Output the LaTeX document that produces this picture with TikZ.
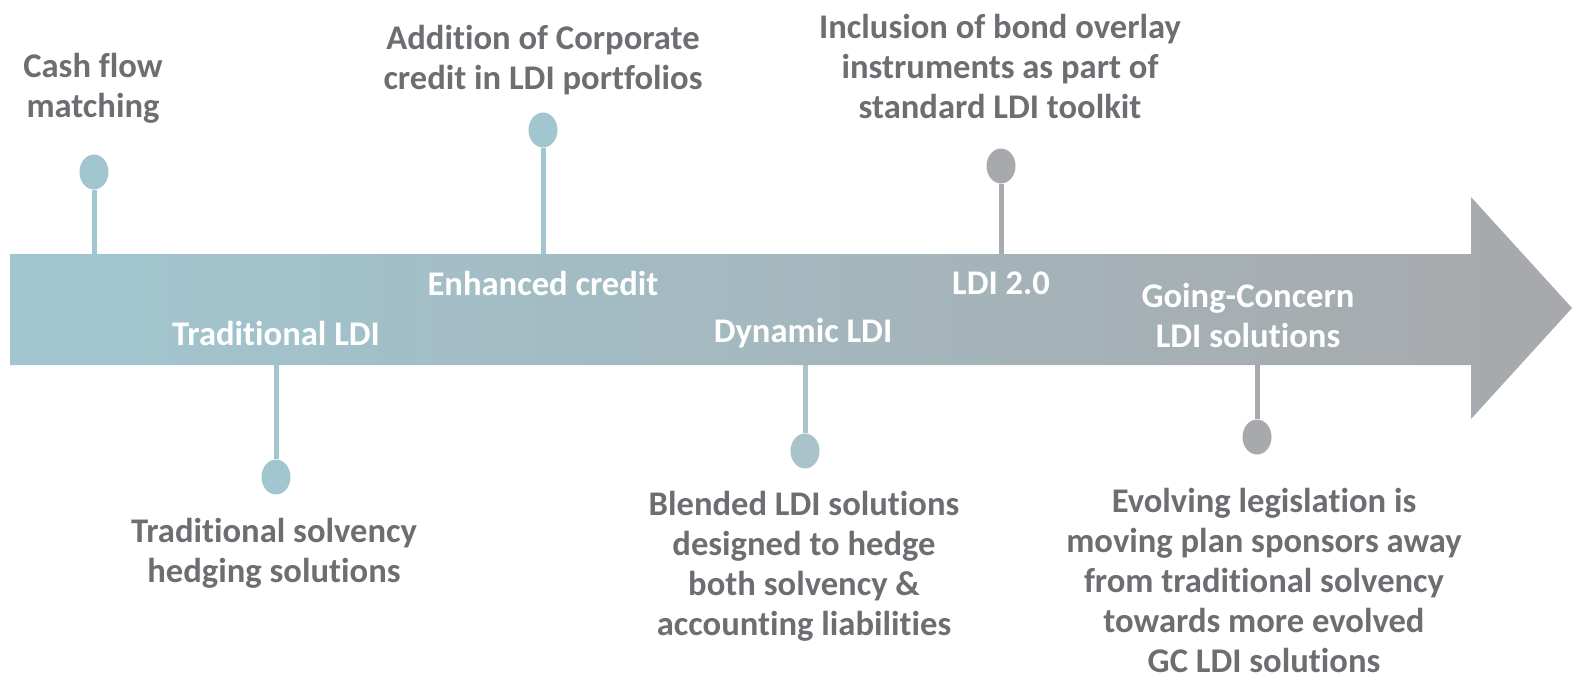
\documentclass[tikz,border=0pt]{standalone}
\usepackage{fontspec}
\setmainfont{Carlito}[RawFeature=-liga]
\usetikzlibrary{shapes.geometric}
\definecolor{bandteal}{HTML}{A1C6D0}
\definecolor{bandgray}{HTML}{A7A9AC}
\definecolor{pinmid}{HTML}{A8C3C9}
\definecolor{labelgray}{HTML}{6D6E71}
\pgfdeclarehorizontalshading{bandshade}{100bp}{color(0bp)=(bandteal); color(26bp)=(bandteal); color(50bp)=(bandteal!50!bandgray); color(74bp)=(bandgray); color(100bp)=(bandgray)}
\tikzset{
  pinhead/.style={ellipse, draw=none, fill=#1, minimum width=14.5pt, minimum height=17.5pt, inner sep=0pt},
  pinstem/.style={draw=#1, line width=2.5pt},
  note/.style={font=\fontsize{17.3}{20}\selectfont\bfseries, text=labelgray, align=center, inner sep=0pt},
  phase/.style={font=\fontsize{17.3}{20}\selectfont\bfseries, text=white, align=center, inner sep=0pt}
}
\begin{document}
\begin{tikzpicture}[x=0.5pt,y=-0.5pt]
\useasboundingbox (0,0) rectangle (1572,681);
% timeline arrow
\path[shading=bandshade] (10,254) -- (1471,254) -- (1471,197) -- (1572,308) -- (1471,419) -- (1471,365) -- (10,365) -- cycle;
% band edge anchors for the stems
\coordinate (b1) at (94,254);
\coordinate (b2) at (276,365);
\coordinate (b3) at (543,254);
\coordinate (b4) at (805,365);
\coordinate (b5) at (1001,254);
\coordinate (b6) at (1257,365);
% pin heads
\node[pinhead=bandteal] (p1) at (94,172) {};
\node[pinhead=bandteal] (p2) at (276,477) {};
\node[pinhead=bandteal] (p3) at (543,130) {};
\node[pinhead=pinmid] (p4) at (805,451) {};
\node[pinhead=bandgray] (p5) at (1001,166) {};
\node[pinhead=bandgray] (p6) at (1257,437) {};
% stems
\draw[pinstem=bandteal] (p1) -- (b1);
\draw[pinstem=bandteal] (p2) -- (b2);
\draw[pinstem=bandteal] (p3) -- (b3);
\draw[pinstem=pinmid] (p4) -- (b4);
\draw[pinstem=bandgray] (p5) -- (b5);
\draw[pinstem=bandgray] (p6) -- (b6);
% phase names on the band
\node[phase] (t1) at (276,333) {Traditional LDI};
\node[phase] (t2) at (543,283) {Enhanced credit};
\node[phase] (t3) at (803,333) {Dynamic LDI};
\node[phase] (t4) at (1001,283) {LDI 2.0};
\node[phase] (t5) at (1248,315) {Going-Concern\\LDI solutions};
% descriptions
\node[note] (n1) at (93,88) {Cash flow\\matching};
\node[note] (n2) at (274,553) {Traditional solvency\\hedging solutions};
\node[note] (n3) at (543,60) {Addition of Corporate\\credit in LDI portfolios};
\node[note] (n4) at (804,566) {Blended LDI solutions\\designed to hedge\\both solvency \&\\accounting liabilities};
\node[note] (n5) at (1000,66) {Inclusion of bond overlay\\instruments as part of\\standard LDI toolkit};
\node[note] (n6) at (1264,580) {Evolving legislation is\\moving plan sponsors away\\from traditional solvency\\towards more evolved\\GC LDI solutions};
\end{tikzpicture}
\end{document}
